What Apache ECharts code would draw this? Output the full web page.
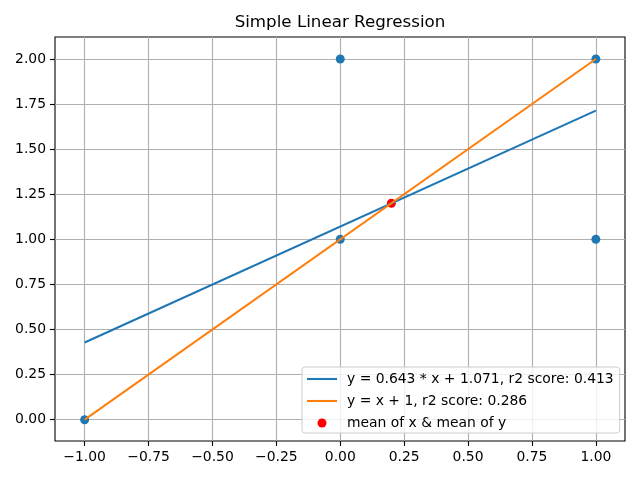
<!DOCTYPE html>
<html>
<head>
<meta charset="utf-8">
<script src="https://cdn.jsdelivr.net/npm/echarts@6/dist/echarts.min.js"></script>
<style>html,body{margin:0;padding:0;background:#fff}#c{width:640px;height:480px}</style>
</head>
<body>
<div id="c"></div>
<script>
const titleText = 'Simple Linear Regression';
const pointsX = [-1, 0, 0, 1, 1];
const pointsY = [0, 1, 2, 1, 2];
const meanPoint = [0.2, 1.2];
const fitLineX = [-1, 1];
const fitLineY = [0.428, 1.714];
const refLineX = [-1, 1];
const refLineY = [0, 2];
const xTicks = [-1.0, -0.75, -0.5, -0.25, 0.0, 0.25, 0.5, 0.75, 1.0];
const yTicks = [0.0, 0.25, 0.5, 0.75, 1.0, 1.25, 1.5, 1.75, 2.0];
const legendNames = ['y = 0.643 * x + 1.071, r2 score: 0.413', 'y = x + 1, r2 score: 0.286', 'mean of x & mean of y'];

const FONT = 'DejaVu Sans';
const fmt = v => v.toFixed(2).replace('-', '\u2212');
const zip = (a, b) => a.map((v, i) => [v, b[i]]);
const lineIcon = 'path://M0,0 L30,0 L30,2.1 L0,2.1 Z';

const chart = echarts.init(document.getElementById('c'), null, {renderer: 'canvas'});
chart.setOption({
  animation: false,
  backgroundColor: '#ffffff',
  title: {
    text: titleText, left: 340, top: 14, padding: 0, textAlign: 'center',
    textStyle: {fontFamily: FONT, fontSize: 16.7, fontWeight: 'normal', color: '#000'}
  },
  grid: {
    left: 55, right: 15, top: 37, bottom: 39, containLabel: false,
    show: true, borderColor: '#000', borderWidth: 1.1, backgroundColor: 'transparent'
  },
  xAxis: {
    type: 'value', min: -1.116, max: 1.114, position: 'bottom',
    axisLine: {show: false, onZero: false},
    splitLine: {show: false},
    axisTick: {show: true, customValues: xTicks, length: 5, lineStyle: {color: '#000', width: 1.1}},
    axisLabel: {customValues: xTicks, formatter: fmt, margin: 9, fontFamily: FONT, fontSize: 13.9, color: '#000'}
  },
  yAxis: {
    type: 'value', min: -0.118, max: 2.122, position: 'left',
    axisLine: {show: false, onZero: false},
    splitLine: {show: false},
    axisTick: {show: true, customValues: yTicks, length: 5, lineStyle: {color: '#000', width: 1.1}},
    axisLabel: {customValues: yTicks, formatter: fmt, margin: 9, fontFamily: FONT, fontSize: 13.9, color: '#000'}
  },
  legend: {
    data: [
      {name: legendNames[0], icon: lineIcon},
      {name: legendNames[1], icon: lineIcon},
      {name: legendNames[2], icon: 'circle'}
    ],
    orient: 'vertical', left: 302, top: 367, z: 10,
    padding: [4, 6, 2, 5], itemGap: 6, itemWidth: 30, itemHeight: 9,
    backgroundColor: 'rgba(255,255,255,0.8)', borderColor: '#cccccc', borderWidth: 1, borderRadius: 3,
    textStyle: {fontFamily: FONT, fontSize: 13.9, color: '#000', lineHeight: 16, padding: [0, 0, 0, 5]}
  },
  series: [
    {
      name: 'grid', type: 'line', data: [], silent: true, z: 0,
      markLine: {
        silent: true, symbol: 'none', animation: false, z: 0,
        label: {show: false},
        lineStyle: {color: '#b0b0b0', width: 1.1, type: 'solid'},
        data: xTicks.map(v => ({xAxis: v})).concat(yTicks.map(v => ({yAxis: v})))
      }
    },
    {
      name: 'points', type: 'scatter', z: 2, data: zip(pointsX, pointsY),
      symbol: 'circle', symbolSize: 9, itemStyle: {color: '#1f77b4', opacity: 1}
    },
    {
      name: legendNames[2], type: 'scatter', z: 2, data: [meanPoint],
      symbol: 'circle', symbolSize: 9, itemStyle: {color: '#ff0000', opacity: 1}
    },
    {
      name: legendNames[0], type: 'line', z: 3, data: zip(fitLineX, fitLineY),
      symbol: 'none', showSymbol: false, lineStyle: {color: '#1f77b4', width: 2.1}, itemStyle: {color: '#1f77b4'}
    },
    {
      name: legendNames[1], type: 'line', z: 4, data: zip(refLineX, refLineY),
      symbol: 'none', showSymbol: false, lineStyle: {color: '#ff7f0e', width: 2.1}, itemStyle: {color: '#ff7f0e'}
    }
  ]
});
</script>
</body>
</html>
